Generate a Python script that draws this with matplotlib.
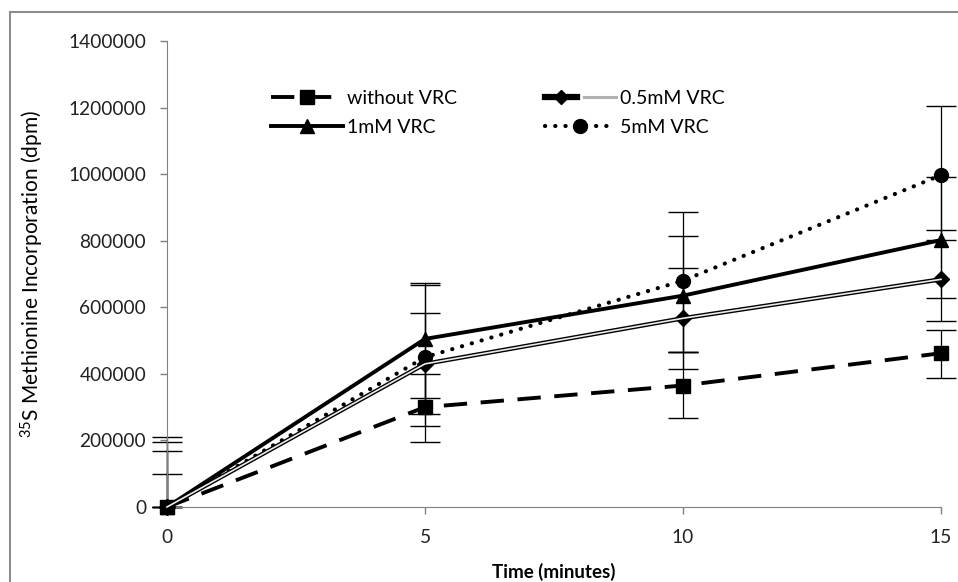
import numpy as np
import matplotlib.pyplot as plt
from matplotlib.lines import Line2D
from matplotlib.patches import Rectangle
from matplotlib.legend_handler import HandlerTuple

plt.rcParams['font.family'] = ['Lato', 'DejaVu Sans']
plt.rcParams['mathtext.fontset'] = 'custom'
plt.rcParams['mathtext.rm'] = 'Lato'
plt.rcParams['mathtext.default'] = 'regular'

# Datos
time = [0, 5, 10, 15]
xticks = [0, 5, 10, 15]
labels = ['without VRC', '0.5mM VRC', '1mM VRC', '5mM VRC']

no_vrc = [0, 300000, 365000, 462000]
no_vrc_up = [98000, 99000, 100000, 70000]
no_vrc_lo = [0, 104000, 98500, 75000]

vrc_05 = [0, 430000, 567000, 684000]
vrc_05_up = [168000, 152000, 150000, 148000]
vrc_05_lo = [0, 152000, 151000, 125000]

vrc_1 = [0, 505000, 635000, 802000]
vrc_1_up = [196000, 169000, 179000, 190000]
vrc_1_lo = [0, 178000, 170000, 175000]

vrc_5 = [0, 450000, 680000, 997000]
vrc_5_up = [209000, 216000, 205000, 208000]
vrc_5_lo = [0, 207000, 215000, 195000]

fig = plt.figure(figsize=(9.58, 5.82), dpi=100)
ax = fig.add_axes([167/958, 1 - 507/582, 774/958, 466/582])

# Marco exterior gris
fig.patches.append(Rectangle((10/958, -0.2), 1.2, 1.2 - 12/582,
                             transform=fig.transFigure, fill=False,
                             edgecolor='#8c8c8c', lw=1.5))

# Barras de error
for y, lo, up in [(no_vrc, no_vrc_lo, no_vrc_up), (vrc_05, vrc_05_lo, vrc_05_up),
                  (vrc_1, vrc_1_lo, vrc_1_up), (vrc_5, vrc_5_lo, vrc_5_up)]:
    eb = ax.errorbar(time, y, yerr=[lo, up], fmt='none', ecolor='black',
                     elinewidth=0.9, capsize=11, capthick=1.0, zorder=2)
    for art in eb.lines[1] + eb.lines[2]:
        art.set_clip_on(False)

lw = 2.8
l_no, = ax.plot(time, no_vrc, color='black', lw=lw, linestyle=(0, (6, 3.5)),
                marker='s', markersize=10, clip_on=False, zorder=3)
l_05a, = ax.plot(time, vrc_05, color='black', lw=3.2, marker='D', markersize=8,
                 clip_on=False, zorder=3)
l_05b, = ax.plot(time, vrc_05, color='#ececec', lw=1.2, clip_on=False, zorder=3.5)
l_1, = ax.plot(time, vrc_1, color='black', lw=lw, marker='^', markersize=10,
               clip_on=False, zorder=3)
l_5, = ax.plot(time, vrc_5, color='black', lw=3.0, linestyle=(0, (0.05, 2.4)),
               dash_capstyle='round', marker='o', markersize=10, clip_on=False, zorder=3)

# Leyenda con la linea doble
h_05a = Line2D([], [], color='black', lw=4.5, marker='D', markersize=7)
h_05b = Line2D([], [], color='#b0b0b0', lw=2.2)
handles = [l_no, l_1, (h_05a, h_05b), l_5]
names = [labels[0], labels[2], labels[1], labels[3]]
ax.legend(handles, names, ncol=2, frameon=False, loc='upper left',
          bbox_to_anchor=(0.112, 0.933), fontsize=14, handlelength=3.7,
          handletextpad=0.2, columnspacing=4.5, labelspacing=0.62,
          handler_map={tuple: HandlerTuple(ndivide=None)})

ax.set_xlim(0, 15)
ax.set_ylim(0, 1400000)
ax.set_xticks(xticks)
ax.set_yticks(np.arange(0, 1400001, 200000))
ax.ticklabel_format(axis='y', style='plain', useOffset=False)
ax.tick_params(axis='both', labelsize=13.8, length=5, width=1, color='#808080',
               labelcolor='#222222')
ax.tick_params(axis='y', pad=10)
ax.tick_params(axis='x', pad=11)

for s in ['top', 'right']:
    ax.spines[s].set_visible(False)
ax.spines['left'].set_color('#808080')
ax.spines['bottom'].set_color('#808080')

ax.set_xlabel('Time (minutes)', fontsize=13.5, fontweight='bold', labelpad=12)
ax.set_ylabel('$^{35}$S Methionine Incorporation (dpm)', fontsize=15, labelpad=16)

fig.savefig('out.png', dpi=100)
